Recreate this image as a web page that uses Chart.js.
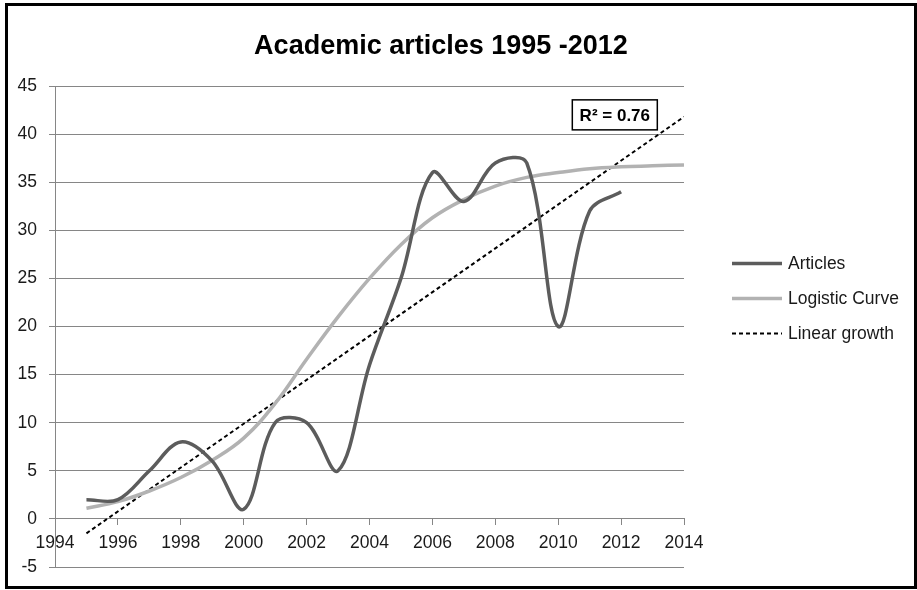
<!DOCTYPE html>
<html><head><meta charset="utf-8">
<script src="https://cdn.jsdelivr.net/npm/chart.js@4.4.0/dist/chart.umd.min.js"></script>
<style>html,body{margin:0;padding:0;background:#fff}canvas{display:block}</style>
</head><body>
<canvas id="c" width="917" height="590"></canvas>
<script>
// ---- data ----
const chartTitle = 'Academic articles 1995 -2012';
const seriesNames = ['Articles', 'Logistic Curve', 'Linear growth'];
const articleYears = [1995,1996,1997,1998,1999,2000,2001,2002,2003,2004,2005,2006,2007,2008,2009,2010,2011,2012];
const articleValues = [2,2,5,8,6,1,10,10,5,16,25,36,33,37,37,20,32,34];
const logisticYears = [1995,1996,1997,1998,1999,2000,2001,2002,2003,2004,2005,2006,2007,2008,2009,2010,2011,2012,2013,2014];
const logisticValues = [1.1,1.8,2.9,4.3,6.1,8.4,12.0,16.6,21.0,25.0,28.5,31.3,33.2,34.6,35.5,36.0,36.4,36.6,36.7,36.8];
const linearYears = [1995, 2014];
const linearValues = [-1.5, 41.8];
const xTickRange = [1994, 2014, 2];
const yTickRange = [-5, 45, 5];
const r2Label = 'R\u00B2 = 0.76';
const r2At = [2011.8, 42];

const FONT = '"Liberation Sans", Arial, sans-serif';
const toPoints = (xs, ys) => xs.map((x, i) => ({x, y: ys[i]}));

const deco = {
  id: 'deco',
  beforeDraw(chart) {
    const c = chart.ctx;
    c.save(); c.fillStyle = '#fff'; c.fillRect(0, 0, chart.width, chart.height); c.restore();
  },
  afterDraw(chart) {
    const c = chart.ctx, xs = chart.scales.x, ys = chart.scales.y;
    c.save();
    // outer frame
    c.lineWidth = 3; c.strokeStyle = '#000';
    c.strokeRect(6.5, 4.5, 909, 583);
    // title
    c.fillStyle = '#000'; c.textAlign = 'center'; c.textBaseline = 'alphabetic';
    c.font = 'bold 27px ' + FONT;
    c.fillText(chartTitle, 441, 54);
    // R² label
    const px = xs.getPixelForValue(r2At[0]), py = ys.getPixelForValue(r2At[1]);
    c.font = 'bold 17px ' + FONT; c.textBaseline = 'middle';
    c.fillText(r2Label, px, py + 1);
    c.lineWidth = 1.5; c.strokeRect(px - 42.5, py - 15, 85, 30);
    // legend
    c.textAlign = 'left'; c.font = '17.5px ' + FONT; c.fillStyle = '#1a1a1a';
    chart.data.datasets.forEach((ds, i) => {
      const y = 263 + i * 35;
      c.save();
      c.strokeStyle = ds.borderColor; c.lineWidth = ds.borderWidth;
      c.setLineDash(ds.borderDash || []);
      c.beginPath(); c.moveTo(732, y + 0.5); c.lineTo(782, y + 0.5); c.stroke();
      c.restore();
      c.fillText(ds.label, 788, y + 1);
    });
    c.restore();
  }
};

new Chart(document.getElementById('c'), {
  type: 'line',
  data: {
    datasets: [
      { label: seriesNames[0], data: toPoints(articleYears, articleValues), borderColor: '#5c5c5c', borderWidth: 3.5, tension: 0.35, pointRadius: 0, fill: false },
      { label: seriesNames[1], data: toPoints(logisticYears, logisticValues), borderColor: '#b2b2b2', borderWidth: 3.5, tension: 0.4, pointRadius: 0, fill: false },
      { label: seriesNames[2], data: toPoints(linearYears, linearValues), borderColor: '#000000', borderWidth: 2, borderDash: [4, 3], tension: 0, pointRadius: 0, fill: false }
    ]
  },
  options: {
    responsive: false,
    animation: false,
    layout: { padding: { left: 0, top: 86, right: 233, bottom: 23 } },
    plugins: { legend: { display: false }, title: { display: false }, tooltip: { enabled: false } },
    scales: {
      x: {
        type: 'linear', min: xTickRange[0], max: xTickRange[1],
        position: { y: 0 },
        grid: { drawOnChartArea: false, drawTicks: true, tickLength: 6, color: '#868686' },
        border: { display: true, color: '#868686', width: 1 },
        ticks: { stepSize: xTickRange[2], autoSkip: false, maxRotation: 0, padding: 8,
          color: '#1a1a1a', font: { family: FONT, size: 17.5 }, callback: v => String(v) }
      },
      y: {
        type: 'linear', min: yTickRange[0], max: yTickRange[1],
        afterFit: s => { s.width = 55; },
        grid: { color: '#868686', lineWidth: 1, tickLength: 6 },
        border: { display: true, color: '#868686', width: 1 },
        ticks: { stepSize: yTickRange[2], padding: 12, color: '#1a1a1a', font: { family: FONT, size: 17.5 } }
      }
    }
  },
  plugins: [deco]
});
</script>
</body></html>
